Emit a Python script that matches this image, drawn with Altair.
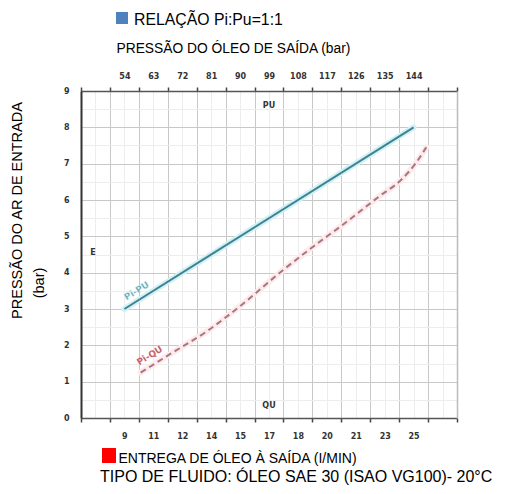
import altair as alt
import pandas as pd

# ---------------- data ----------------
PU_PRESSURE = [54, 144]          # outlet oil pressure (bar)
PU_AIR = [3.0, 8.0]              # inlet air pressure (bar)
QU_FLOW = [9.9, 11.5, 13.6, 15.7, 17.6, 19.4, 21.3, 23.1, 24.3, 25.1, 25.7]   # l/min
QU_AIR = [1.25, 1.75, 2.4, 3.2, 4.0, 4.7, 5.4, 6.1, 6.55, 7.0, 7.45]
TOP_LABELS = [54, 63, 72, 81, 90, 99, 108, 117, 126, 135, 144]
BOTTOM_TICKS = [9.0, 10.6, 12.2, 13.8, 15.4, 17.0, 18.6, 20.2, 21.8, 23.4, 25.0]
BOTTOM_LABELS = ["9", "11", "12", "14", "15", "17", "18", "20", "21", "23", "25"]
Y_TICKS = [0, 1, 2, 3, 4, 5, 6, 7, 8, 9]
Y_MINOR = [0.5, 1.5, 2.5, 3.5, 4.5, 5.5, 6.5, 7.5, 8.5]
GRID_MAJOR = [40.5, 49.5, 58.5, 67.5, 76.5, 85.5, 94.5, 103.5, 112.5, 121.5, 130.5, 139.5, 148.5, 157.5]
GRID_MINOR = [45, 54, 63, 72, 81, 90, 99, 108, 117, 126, 135, 144, 153]
PRESSURE_DOMAIN = [40.5, 157.5]
FLOW_DOMAIN = [6.6, 27.4]
AIR_DOMAIN = [0, 9]

pu = pd.DataFrame({"p": PU_PRESSURE, "air": PU_AIR})
qu = pd.DataFrame({"q": QU_FLOW, "air": QU_AIR})

W, H = 376, 327
FONT = "Liberation Sans"
TICKFONT = "DejaVu Sans"


def xp(axis):
    return alt.X("p:Q", scale=alt.Scale(domain=PRESSURE_DOMAIN, nice=False, zero=False), axis=axis)


def xq(axis):
    return alt.X("q:Q", scale=alt.Scale(domain=FLOW_DOMAIN, nice=False, zero=False), axis=axis)


def yy(axis):
    return alt.Y("air:Q", scale=alt.Scale(domain=AIR_DOMAIN, nice=False, zero=False), axis=axis)


minor = alt.Chart(pu).mark_line(opacity=0).encode(
    x=xp(alt.Axis(orient="bottom", values=GRID_MINOR, grid=True, gridColor="#ededed",
                  labels=False, ticks=False, domain=False, title=None)),
    y=yy(alt.Axis(orient="left", values=Y_MINOR, grid=True, gridColor="#ededed",
                  labels=False, ticks=False, domain=False, title=None)),
)

major = alt.Chart(pu).mark_line(opacity=0).encode(
    x=xp(alt.Axis(orient="bottom", values=GRID_MAJOR, grid=True, gridColor="#c8c8c8",
                  labels=False, ticks=True, tickSize=4, tickColor="#444", tickWidth=1.5,
                  domain=True, domainColor="#555", domainWidth=1.5, title=None)),
    y=yy(alt.Axis(orient="left", values=Y_TICKS, grid=True, gridColor="#c8c8c8",
                  labels=True, labelFont=TICKFONT, labelFontSize=8, labelFontWeight="bold",
                  labelColor="#333", labelPadding=12, ticks=False, tickSize=0,
                  domain=True, domainColor="#333", domainWidth=2,
                  title="PRESSÃO DO AR DE ENTRADA", titleFont=FONT, titleFontSize=14.5,
                  titleFontWeight="normal", titleColor="#000", titleAngle=270,
                  titleX=-64, titleY=119, titleAlign="center", titleBaseline="middle")),
)

top_ticks = alt.Chart(pu).mark_line(opacity=0).encode(
    x=xp(alt.Axis(orient="top", values=GRID_MAJOR, grid=False, labels=False, ticks=True,
                  tickSize=4, tickColor="#444", tickWidth=1.5,
                  domain=True, domainColor="#555", domainWidth=1.5, title=None)),
    y=yy(alt.Axis(orient="right", grid=False, labels=False, ticks=False, domain=True,
                  domainColor="#bbbbbb", domainWidth=1.5, title=None)),
)

pu_halo = alt.Chart(pu).mark_line(color="#d2f1f6", strokeWidth=6, strokeCap="round").encode(
    x=xp(alt.Axis(orient="top", values=TOP_LABELS, grid=False, labels=True, ticks=False,
                  tickSize=0, domain=False, labelFont=TICKFONT, labelFontSize=8,
                  labelFontWeight="bold", labelColor="#333", labelPadding=11,
                  title="PRESSÃO DO ÓLEO DE SAÍDA (bar)", titleFont=FONT, titleFontSize=13.8,
                  titleFontWeight="normal", titleColor="#000", titleAngle=0,
                  titleX=35, titleY=-43, titleAlign="left", titleBaseline="middle")),
    y=yy(None),
)
pu_line = alt.Chart(pu).mark_line(color="#3f8290", strokeWidth=2).encode(
    x=xp(None), y=yy(None))

label_expr = "[" + ",".join("'%s'" % s for s in BOTTOM_LABELS) + "][indexof([" + \
    ",".join(str(v) for v in BOTTOM_TICKS) + "], datum.value)]"

qu_halo = alt.Chart(qu).mark_line(color="#fdeaec", strokeWidth=6, strokeCap="round",
                                  interpolate="monotone").encode(
    x=xq(alt.Axis(orient="bottom", values=BOTTOM_TICKS, labelExpr=label_expr, grid=False,
                  labels=True, ticks=False, tickSize=0, domain=False, labelFont=TICKFONT,
                  labelFontSize=8, labelFontWeight="bold", labelColor="#333",
                  labelPadding=14,
                  title="ENTREGA DE ÓLEO À SAÍDA (I/MIN)", titleFont=FONT, titleFontSize=14,
                  titleFontWeight="normal", titleColor="#000", titleAngle=0,
                  titleX=37, titleY=40, titleAlign="left", titleBaseline="middle")),
    y=yy(None),
)
qu_line = alt.Chart(qu).mark_line(color="#a8767e", strokeWidth=2, strokeDash=[6, 4],
                                  interpolate="monotone").encode(
    x=xq(None), y=yy(None))

# in-plot annotations (data coordinates)
ann_pu = pd.DataFrame({"p": [99, 44.2], "air": [8.6, 4.55], "t": ["PU", "E"]})
ann_pu_txt = alt.Chart(ann_pu).mark_text(font=TICKFONT, fontSize=8, fontWeight="bold",
                                          color="#333").encode(
    x=xp(None), y=yy(None), text="t:N")

ann_qu = pd.DataFrame({"q": [17.0], "air": [0.33], "t": ["QU"]})
ann_qu_txt = alt.Chart(ann_qu).mark_text(font=TICKFONT, fontSize=8, fontWeight="bold",
                                          color="#333").encode(
    x=xq(None), y=yy(None), text="t:N")

lab_pu = pd.DataFrame({"p": [57.8], "air": [3.5], "t": ["Pi-PU"]})
lab_pu_txt = alt.Chart(lab_pu).mark_text(font=TICKFONT, fontSize=9, fontWeight="bold",
                                          color="#5b9fae", angle=328, stroke="#d8f4f8",
                                          strokeWidth=0.4).encode(
    x=xp(None), y=yy(None), text="t:N")

lab_qu = pd.DataFrame({"q": [10.4], "air": [1.72], "t": ["Pi-QU"]})
lab_qu_txt = alt.Chart(lab_qu).mark_text(font=TICKFONT, fontSize=9, fontWeight="bold",
                                          color="#c8646e", angle=328).encode(
    x=xq(None), y=yy(None), text="t:N")

# legend-like headings outside the plot
one = pd.DataFrame({"k": [0]})
blue_sq = alt.Chart(one).mark_rect(color="#4f81bd").encode(
    x=alt.value(35), x2=alt.value(47), y=alt.value(-79), y2=alt.value(-67))
red_sq = alt.Chart(one).mark_rect(color="#ff0000").encode(
    x=alt.value(21), x2=alt.value(35), y=alt.value(357), y2=alt.value(372))
rel_txt = alt.Chart(one).mark_text(font=FONT, fontSize=15.8, align="left", baseline="middle",
                                   color="#000").encode(
    x=alt.value(53), y=alt.value(-71), text=alt.value("RELAÇÃO Pi:Pu=1:1"))
tipo_txt = alt.Chart(one).mark_text(font=FONT, fontSize=16, align="left", baseline="middle",
                                    color="#000").encode(
    x=alt.value(19), y=alt.value(386),
    text=alt.value("TIPO DE FLUIDO: ÓLEO SAE 30 (ISAO VG100)- 20°C"))
bar_txt = alt.Chart(one).mark_text(font=FONT, fontSize=14.5, align="center", baseline="middle",
                                   angle=270, color="#000").encode(
    x=alt.value(-41), y=alt.value(192), text=alt.value("(bar)"))

chart = alt.layer(
    minor, major, top_ticks, pu_halo, qu_halo, pu_line, qu_line,
    ann_pu_txt, ann_qu_txt, lab_pu_txt, lab_qu_txt,
    blue_sq, red_sq, rel_txt, tipo_txt, bar_txt,
).resolve_scale(x="independent", y="independent").properties(
    width=W, height=H,
    autosize=alt.AutoSizeParams(type="none"),
    padding={"left": 73, "top": 83, "right": 49, "bottom": 68},
).configure_view(stroke=None).configure(background="white")

chart.save("out.html", embed_options={"renderer": "svg", "actions": False})
